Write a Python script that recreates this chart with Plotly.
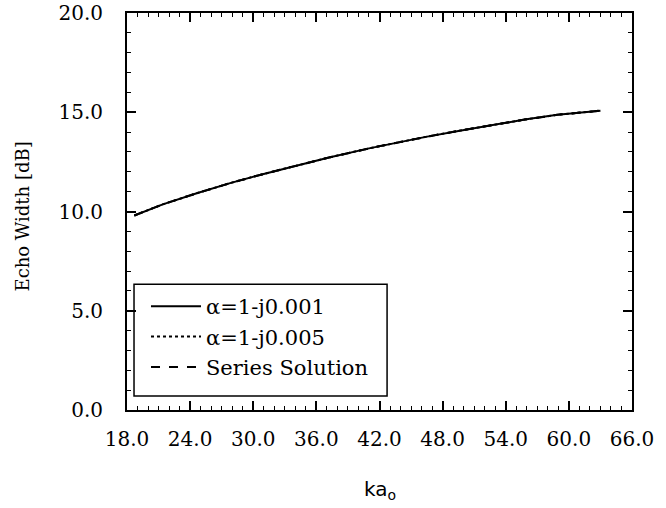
import plotly.graph_objects as go

ka = [18.7, 21.4, 24.7, 27.8, 30.9, 34.1, 37.2, 41.0, 43.2, 46.4, 49.5, 52.6, 55.8, 58.9, 63.0]
ew_001 = [9.80, 10.36, 10.93, 11.43, 11.88, 12.32, 12.72, 13.18, 13.42, 13.76, 14.06, 14.35, 14.63, 14.87, 15.08]
ew_005 = [9.80, 10.36, 10.93, 11.43, 11.88, 12.32, 12.72, 13.18, 13.42, 13.76, 14.06, 14.35, 14.63, 14.87, 15.08]
ew_series = [9.80, 10.36, 10.93, 11.43, 11.88, 12.32, 12.72, 13.18, 13.42, 13.76, 14.06, 14.35, 14.63, 14.87, 15.08]

names = ["α=1-j0.001", "α=1-j0.005", "Series Solution"]
x_ticks = [18, 24, 30, 36, 42, 48, 54, 60, 66]
y_ticks = [0, 5, 10, 15, 20]

SERIF = "DejaVu Serif, serif"

fig = go.Figure()
for i, (vals, dash) in enumerate([(ew_001, "solid"), (ew_005, "dot"), (ew_series, "dash")]):
    fig.add_trace(go.Scatter(
        x=ka, y=vals, mode="lines", name=names[i], legendgroup=f"g{i}",
        line=dict(color="black", width=2, dash=dash),
    ))

axis_common = dict(
    showline=True, linecolor="black", linewidth=2, mirror="ticks",
    ticks="inside", ticklen=9, tickwidth=1.5, tickcolor="black",
    showgrid=False, zeroline=False, tickformat=".1f", automargin=False,
    tickfont=dict(family=SERIF, size=20, color="black"),
)

fig.update_xaxes(range=[18, 66], tickvals=x_ticks, ticklabelstandoff=10,
                 minor=dict(dtick=1, ticklen=4, ticks="inside", tickcolor="black", tickwidth=1.2),
                 **axis_common)
fig.update_yaxes(range=[0, 20], tickvals=y_ticks, ticklabelstandoff=18,
                 minor=dict(dtick=1, ticklen=4, ticks="inside", tickcolor="black", tickwidth=1.2),
                 **axis_common)

fig.update_layout(
    width=666, height=508,
    margin=dict(l=127, r=34, t=13, b=98),
    paper_bgcolor="white", plot_bgcolor="white",
    showlegend=True,
    legend=dict(
        x=0.0376, y=0.312, xanchor="left", yanchor="top",
        bgcolor="rgba(0,0,0,0)", borderwidth=0,
        font=dict(family=SERIF, size=21, color="black"),
        tracegroupgap=0, traceorder="grouped", itemwidth=50,
    ),
    shapes=[
        dict(type="rect", xref="paper", yref="paper",
             x0=0.0139, x1=0.515, y0=0.035, y1=0.317,
             line=dict(color="black", width=1.5)),
    ],
    annotations=[
        dict(text="Echo Width [dB]", textangle=-90, xref="paper", yref="paper",
             x=0, y=0.5, xanchor="center", yanchor="middle", xshift=-105, yshift=-5,
             showarrow=False, font=dict(family=SERIF, size=18, color="black")),
        dict(text="ka<sub>o</sub>", xref="paper", yref="paper",
             x=0.5, y=0, xanchor="center", yanchor="middle", yshift=-80, showarrow=False,
             font=dict(family="DejaVu Sans, sans-serif", size=20, color="black")),
    ],
)

fig.write_html("out.html", config={"displayModeBar": False},
               post_script="document.body.style.margin='0';")
